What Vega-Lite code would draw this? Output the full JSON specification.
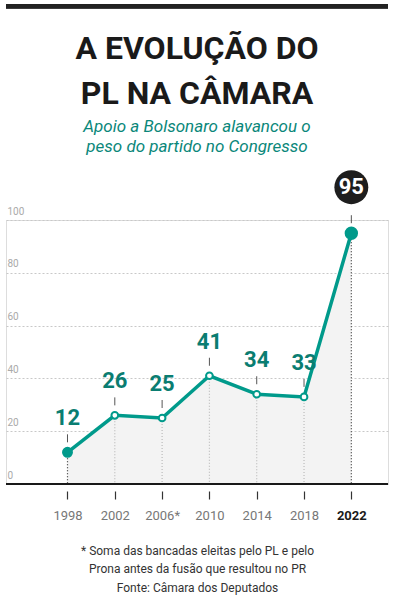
{
  "$schema": "https://vega.github.io/schema/vega-lite/v6.json",
  "width": 382,
  "height": 264,
  "autosize": "none",
  "padding": {"left": 6, "top": 220, "right": 12, "bottom": 124},
  "background": "white",
  "title": {
    "text": ["A EVOLUÇÃO DO", "PL NA CÂMARA"],
    "subtitle": ["Apoio a Bolsonaro alavancou o", "peso do partido no Congresso"],
    "anchor": "middle",
    "frame": "group",
    "font": "Roboto",
    "fontSize": 32,
    "fontWeight": "bold",
    "color": "#1a1a1a",
    "lineHeight": 45,
    "subtitleFont": "Roboto",
    "subtitleFontSize": 17,
    "subtitleFontStyle": "italic",
    "subtitleColor": "#0a877a",
    "subtitleLineHeight": 20,
    "subtitlePadding": 8,
    "offset": -152
  },
  "data": {
    "values": [
      {"year": 1998, "seats": 12},
      {"year": 2002, "seats": 26},
      {"year": 2006, "seats": 25},
      {"year": 2010, "seats": 41},
      {"year": 2014, "seats": 34},
      {"year": 2018, "seats": 33},
      {"year": 2022, "seats": 95}
    ]
  },
  "encoding": {
    "x": {
      "field": "year",
      "type": "quantitative",
      "scale": {"domain": [1992.8, 2025.1], "nice": false, "zero": false},
      "axis": {
        "values": [1998, 2002, 2006, 2010, 2014, 2018, 2022],
        "labelExpr": "datum.value == 2006 ? '2006*' : '' + datum.value",
        "grid": false,
        "domain": false,
        "ticks": true,
        "tickSize": 8,
        "tickColor": "#333",
        "tickWidth": 1.2,
        "offset": 7,
        "labelPadding": 10,
        "labelFont": "Roboto",
        "labelFontSize": 13,
        "labelColor": {"condition": {"test": "datum.value == 2022", "value": "#1a1a1a"}, "value": "#777"},
        "labelFontWeight": {"condition": {"test": "datum.value == 2022", "value": "bold"}, "value": "normal"},
        "title": ["* Soma das bancadas eleitas pelo PL e pelo", "Prona antes da fusão que resultou no PR", "Fonte: Câmara dos Deputados"],
        "titleFont": "Roboto",
        "titleFontSize": 12,
        "titleFontWeight": "normal",
        "titleColor": "#333",
        "titlePadding": 23,
        "titleLineHeight": 18.5
      }
    }
  },
  "layer": [
    {
      "mark": {"type": "area", "color": "#f3f3f3"},
      "encoding": {
        "y": {
          "field": "seats",
          "type": "quantitative",
          "scale": {"domain": [0, 100], "nice": false},
          "axis": {
            "values": [0, 20, 40, 60, 80, 100],
            "title": null,
            "grid": true,
            "gridDash": [2, 2],
            "gridColor": "#c8c8c8",
            "ticks": false,
            "domain": false,
            "labelAlign": "left",
            "labelBaseline": "bottom",
            "labelPadding": -1,
            "labelOffset": -4,
            "labelFont": "Roboto",
            "labelFontSize": 10,
            "labelColor": "#aaa"
          }
        }
      }
    },
    {
      "mark": {"type": "rule", "strokeDash": [1, 2], "strokeWidth": 1.2},
      "encoding": {
        "y": {"field": "seats", "type": "quantitative"},
        "y2": {"datum": 0},
        "color": {"condition": {"test": "datum.year == 1998 || datum.year == 2022", "value": "#333"}, "value": "#bbb"}
      }
    },
    {
      "mark": {"type": "rule", "color": "#1a1a1a", "strokeWidth": 1.3},
      "encoding": {"x": null, "y": {"datum": 0, "type": "quantitative"}}
    },
    {
      "mark": {"type": "rule", "color": "#222", "strokeWidth": 4},
      "encoding": {"x": null, "y": {"datum": 181, "type": "quantitative"}}
    },
    {
      "mark": {"type": "line", "color": "#009a8b", "strokeWidth": 3.5},
      "encoding": {"y": {"field": "seats", "type": "quantitative"}}
    },
    {
      "mark": {"type": "point", "filled": false, "stroke": "#009a8b", "strokeWidth": 2, "opacity": 1},
      "encoding": {
        "y": {"field": "seats", "type": "quantitative"},
        "fill": {"condition": {"test": "datum.year == 1998 || datum.year == 2022", "value": "#009a8b"}, "value": "white"},
        "size": {"condition": [{"test": "datum.year == 2022", "value": 130}, {"test": "datum.year == 1998", "value": 80}], "value": 45}
      }
    },
    {
      "mark": {"type": "rule", "color": "#555", "strokeWidth": 1, "yOffset": -10, "y2Offset": -18},
      "encoding": {
        "y": {"field": "seats", "type": "quantitative"},
        "y2": {"field": "seats"}
      }
    },
    {
      "transform": [{"filter": "datum.year != 2022"}],
      "mark": {"type": "text", "font": "Roboto", "fontWeight": "bold", "fontSize": 22, "color": "#0a7d71", "baseline": "alphabetic", "dy": -27},
      "encoding": {
        "y": {"field": "seats", "type": "quantitative"},
        "text": {"field": "seats"}
      }
    },
    {
      "transform": [{"filter": "datum.year == 2022"}],
      "mark": {"type": "point", "filled": true, "color": "#1e1e1e", "opacity": 1, "size": 1150, "yOffset": -46},
      "encoding": {"y": {"field": "seats", "type": "quantitative"}}
    },
    {
      "transform": [{"filter": "datum.year == 2022"}],
      "mark": {"type": "text", "font": "Roboto", "fontWeight": "bold", "fontSize": 22, "color": "white", "baseline": "middle", "dy": -46},
      "encoding": {
        "y": {"field": "seats", "type": "quantitative"},
        "text": {"field": "seats"}
      }
    }
  ]
}
